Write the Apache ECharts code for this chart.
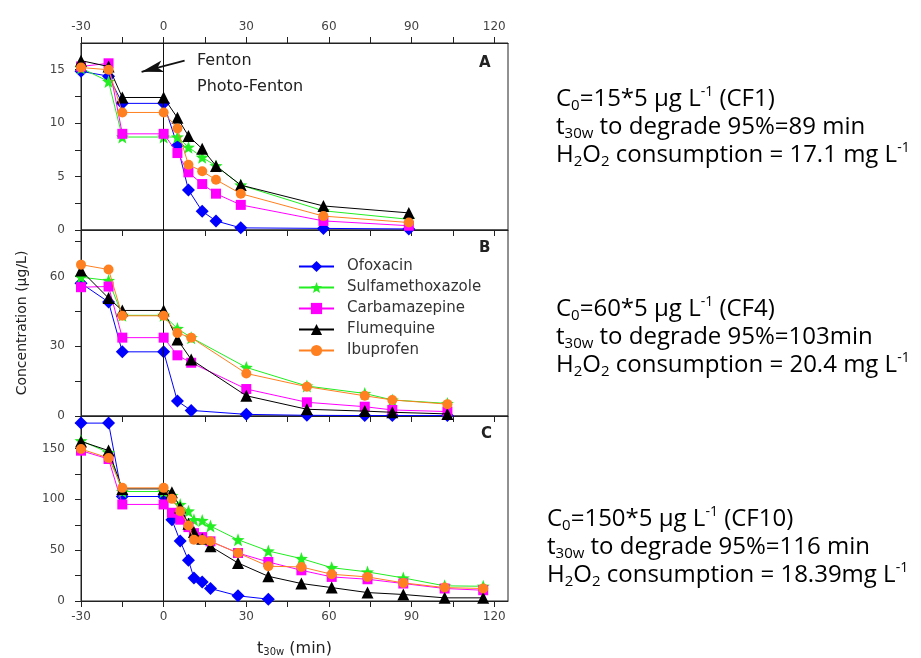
<!DOCTYPE html>
<html>
<head>
<meta charset="utf-8">
<script src="https://cdn.jsdelivr.net/npm/echarts@6/dist/echarts.min.js"></script>
<style>
  html, body { margin: 0; padding: 0; background: #fff; }
  #chart { width: 921px; height: 658px; }
</style>
</head>
<body>
<div id="chart"></div>
<script>
// sampling times (min), t30w
const timesA = [-30, -20, -15, 0, 5, 9, 14, 19, 28, 58, 89];
const timesB = [-30, -20, -15, 0, 5, 10, 30, 52, 73, 83, 103];
const timesC = [-30, -20, -15, 0, 3, 6, 9, 11, 14, 17, 27, 38, 50, 61, 74, 87, 102, 116];

// CF1, µg/L
const ofoxacinA = [14.85, 14.4, 11.85, 11.85, 7.9, 3.75, 1.75, 0.85, 0.2, 0.15, 0.1];
const sulfaA    = [15.15, 13.9, 8.7, 8.7, 8.7, 7.75, 6.8, 6.0, 4.2, 1.8, 1.0];
const carbaA    = [15.3, 15.6, 9.0, 9.0, 7.2, 5.4, 4.3, 3.4, 2.35, 0.85, 0.4];
const flumeA    = [15.85, 15.3, 12.4, 12.4, 10.5, 8.8, 7.6, 6.0, 4.2, 2.25, 1.6];
const ibuA      = [15.2, 15.0, 11.0, 11.0, 9.5, 6.1, 5.5, 4.7, 3.4, 1.3, 0.7];

// CF4
const ofoxacinB = [57.1, 49, 27.6, 27.6, 6.4, 2.4, 0.7, 0.3, 0.2, 0.2, 0.2];
const sulfaB    = [59.7, 58.3, 43.3, 43.3, 37.6, 33.7, 20.9, 12.9, 9.7, 6.9, 5.4];
const carbaB    = [55.4, 55.7, 33.7, 33.7, 26.1, 22.9, 11.6, 5.9, 4.0, 2.6, 1.9];
const flumeB    = [62.6, 50.7, 45.4, 45.4, 32.9, 24.3, 8.7, 2.9, 2.1, 1.6, 0.9];
const ibuB      = [65.1, 63, 43.1, 43.1, 35.7, 33.7, 18.3, 12.6, 8.7, 6.9, 5.1];

// CF10
const ofoxacinC = [175, 175, 102.8, 102.8, 79.9, 59, 40, 22.7, 18.8, 12.3, 5.1, 1.8, null, null, null, null, null, null];
const sulfaC    = [157.7, 146, 107.7, 107.7, 103.8, 95, 88.4, 80, 79.2, 73.7, 60.3, 49.2, 41.7, 32.8, 28.6, 22.7, 14.9, 14.5];
const carbaC    = [147.9, 139.7, 95, 95, 86.8, 80, 72.7, 66.8, 62.9, 58.7, 47.2, 38.4, 30.2, 23.7, 21.4, 17.2, 12.3, 10.6];
const flumeC    = [157, 148, 110.3, 110.3, 107, 92, 76, 67.8, 61.3, 53.8, 37.4, 24.3, 17.2, 13.2, 8.3, 6.4, 3.1, 3.1];
const ibuC      = [149.5, 140.7, 111.3, 111.3, 100.5, 88.4, 74.3, 60.3, 60, 58.7, 47.2, 34.2, 33.5, 26.3, 23.7, 17.8, 13.2, 12.3];

const names = ['Ofoxacin', 'Sulfamethoxazole', 'Carbamazepine', 'Flumequine', 'Ibuprofen'];

// axis labels / ticks
const xLabels = [-30, 0, 30, 60, 90, 120];
const xTicks = [-30, -15, 0, 15, 30, 45, 60, 75, 90, 105, 120];
const yLabelsA = [0, 5, 10, 15];
const yTicksA = [0, 2.5, 5, 7.5, 10, 12.5, 15];
const yLabelsB = [0, 30, 60];
const yTicksB = [0, 15, 30, 45, 60, 75];
const yLabelsC = [0, 50, 100, 150];
const yTicksC = [0, 25, 50, 75, 100, 125, 150, 175];

const switchTime = 0; // Fenton -> photo-Fenton
const fentonArrow = [[7.6, 15.85], [-8, 14.8]];

const star = 'path://M12,0 L15,8.5 L24,9 L17,14.5 L19.5,23.5 L12,18.5 L4.5,23.5 L7,14.5 L0,9 L9,8.5 Z';
const looks = [
  { color: '#0000ff', symbol: 'diamond', size: 13 },
  { color: '#22ee22', symbol: star, size: 13 },
  { color: '#ff00ff', symbol: 'rect', size: 10 },
  { color: '#000000', symbol: 'triangle', size: 12 },
  { color: '#ff8020', symbol: 'circle', size: 10 }
];

const FONT = 'DejaVu Sans';
const panels = [
  { times: timesA, sets: [ofoxacinA, sulfaA, carbaA, flumeA, ibuA], x: 0, y: 0 },
  { times: timesB, sets: [ofoxacinB, sulfaB, carbaB, flumeB, ibuB], x: 2, y: 1 },
  { times: timesC, sets: [ofoxacinC, sulfaC, carbaC, flumeC, ibuC], x: 3, y: 2 }
];

const series = [];
panels.forEach(function (p, pi) {
  p.sets.forEach(function (vals, k) {
    const s = {
      name: names[k],
      type: 'line',
      xAxisIndex: p.x,
      yAxisIndex: p.y,
      data: p.times.map((t, i) => [t, vals[i]]),
      symbol: looks[k].symbol,
      symbolSize: looks[k].size,
      showAllSymbol: true,
      connectNulls: false,
      itemStyle: { color: looks[k].color },
      lineStyle: { color: looks[k].color, width: 1 },
      z: 3 + k
    };
    if (k === 0) {
      const lines = [{ xAxis: switchTime }];
      if (pi === 0) {
        lines.push([
          { coord: fentonArrow[0], symbol: 'none', lineStyle: { width: 1.6, color: '#111' } },
          { coord: fentonArrow[1], symbol: 'arrow', symbolSize: [9, 22] }
        ]);
      }
      s.markLine = {
        silent: true,
        animation: false,
        symbol: 'none',
        label: { show: false },
        lineStyle: { color: '#111', width: 1, type: 'solid' },
        emphasis: { disabled: true },
        data: lines
      };
    }
    series.push(s);
  });
});

const axisCommon = {
  type: 'value',
  splitLine: { show: false },
  axisLine: { show: true, onZero: false, lineStyle: { color: '#222', width: 1 } },
  axisTick: { show: true, length: 6, lineStyle: { color: '#222' } },
  axisLabel: { fontFamily: FONT, fontSize: 12, color: '#444' }
};

function xAxis(grid, pos, showLabels, extra) {
  return Object.assign({}, axisCommon, {
    gridIndex: grid,
    position: pos,
    min: -30,
    max: 125,
    axisTick: Object.assign({}, axisCommon.axisTick, { customValues: xTicks }),
    axisLabel: Object.assign({}, axisCommon.axisLabel, { show: showLabels, customValues: xLabels, margin: 10 })
  }, extra || {});
}

function yAxis(grid, max, labels, ticks, extra) {
  return Object.assign({}, axisCommon, {
    gridIndex: grid,
    min: 0,
    max: max,
    axisTick: Object.assign({}, axisCommon.axisTick, { customValues: ticks }),
    axisLabel: Object.assign({}, axisCommon.axisLabel, { customValues: labels, margin: 16 })
  }, extra || {});
}

const noteRich = {
  n: { fontFamily: 'Open Sans', fontSize: 24, lineHeight: 28, color: '#1a1a1a' },
  s: { fontFamily: 'Open Sans', fontSize: 15, lineHeight: 15, verticalAlign: 'bottom', color: '#1a1a1a' },
  p: { fontFamily: 'Open Sans', fontSize: 14, lineHeight: 18, verticalAlign: 'top', color: '#1a1a1a' }
};
function note(x, y, c0, cf, tmin, h2o2) {
  return {
    type: 'text',
    left: x,
    top: y,
    style: {
      text: '{n|C}{s|0}{n|=' + c0 + ' µg L}{p|-1}{n| (' + cf + ')}\n' +
            '{n|t}{s|30w}{n| to degrade 95%=' + tmin + '}\n' +
            '{n|H}{s|2}{n|O}{s|2}{n| consumption = ' + h2o2 + ' L}{p|-1}',
      rich: noteRich
    }
  };
}

function label(x, y, text, size, bold) {
  return {
    type: 'text',
    x: x,
    y: y,
    style: {
      text: text,
      fontFamily: FONT,
      fontSize: size,
      fontWeight: bold ? 'bold' : 'normal',
      fill: '#222',
      verticalAlign: 'middle'
    }
  };
}

const chart = echarts.init(document.getElementById('chart'));
chart.setOption({
  animation: false,
  backgroundColor: '#fff',
  grid: [
    { left: 81, top: 43, width: 427, height: 187, show: true, borderColor: '#222', borderWidth: 1 },
    { left: 81, top: 230, width: 427, height: 186, show: true, borderColor: '#222', borderWidth: 1 },
    { left: 81, top: 416, width: 427, height: 187, show: true, borderColor: '#222', borderWidth: 1 }
  ],
  xAxis: [
    xAxis(0, 'top', true),
    xAxis(0, 'bottom', false),
    xAxis(1, 'bottom', false),
    xAxis(2, 'bottom', true, {
      name: '{t|t}{s|30w} (min)',
      nameLocation: 'middle',
      nameGap: 40,
      nameTextStyle: {
        fontFamily: FONT, fontSize: 16, color: '#222',
        rich: {
          t: { fontFamily: FONT, fontSize: 16, color: '#222' },
          s: { fontFamily: FONT, fontSize: 10, color: '#222', verticalAlign: 'bottom', lineHeight: 10 }
        }
      }
    })
  ],
  yAxis: [
    yAxis(0, 17.5, yLabelsA, yTicksA),
    yAxis(1, 80, yLabelsB, yTicksB, {
      name: 'Concentration (µg/L)',
      nameLocation: 'middle',
      nameGap: 52,
      nameTextStyle: { fontFamily: FONT, fontSize: 14, color: '#222' }
    }),
    yAxis(2, 182, yLabelsC, yTicksC)
  ],
  legend: {
    data: names,
    orient: 'vertical',
    left: 293,
    top: 253,
    itemWidth: 35,
    itemHeight: 14,
    itemGap: 4,
    textStyle: { fontFamily: FONT, fontSize: 15, color: '#333', lineHeight: 17, padding: [0, 0, 0, 8] }
  },
  graphic: [
    label(197, 61, 'Fenton', 16, false),
    label(197, 87, 'Photo-Fenton', 16, false),
    label(479, 63, 'A', 15, true),
    label(479, 248, 'B', 15, true),
    label(481, 434, 'C', 15, true),
    note(556, 85, '15*5', 'CF1', '89 min', '17.1 mg'),
    note(556, 295, '60*5', 'CF4', '103min', '20.4 mg'),
    note(547, 505, '150*5', 'CF10', '116 min', '18.39mg')
  ],
  series: series
});
</script>
</body>
</html>
